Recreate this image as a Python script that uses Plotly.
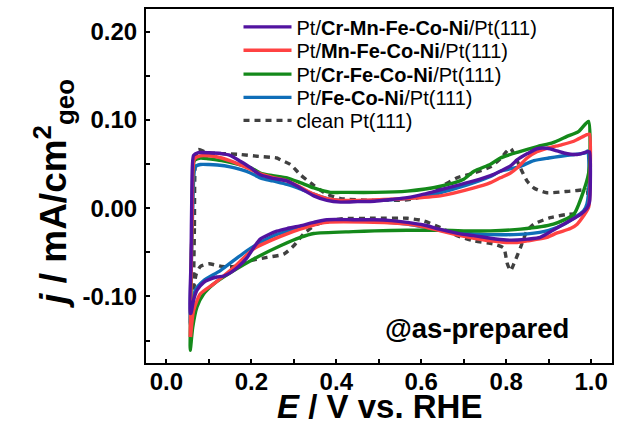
import plotly.graph_objects as go

# Cyclic voltammograms, E / V vs. RHE against j / mA cm^-2 (geo).
# Each curve: anodic sweep (low -> high E) followed by the cathodic return sweep.

cmfcn_E = [0.056, 0.058, 0.060, 0.064, 0.075, 0.10, 0.13, 0.15, 0.175, 0.198, 0.221, 0.25, 0.284, 0.315,
           0.347, 0.378, 0.41, 0.45, 0.49, 0.53, 0.567, 0.606, 0.645, 0.685, 0.724, 0.763, 0.786, 0.81,
           0.826, 0.85, 0.872, 0.896, 0.92, 0.936, 0.967, 0.99, 0.996, 0.998, 0.996,
           0.99, 0.975, 0.943, 0.91, 0.88, 0.85, 0.826, 0.80, 0.763, 0.724, 0.692, 0.645, 0.606, 0.567,
           0.53, 0.488, 0.44, 0.378, 0.347, 0.315, 0.284, 0.26, 0.24, 0.221, 0.205, 0.19, 0.17, 0.151,
           0.135, 0.119, 0.10, 0.088, 0.072, 0.063, 0.058, 0.056]
cmfcn_j = [-0.119, -0.06, 0.02, 0.060, 0.063, 0.063, 0.062, 0.060, 0.053, 0.046, 0.038, 0.034, 0.031, 0.023,
           0.014, 0.009, 0.007, 0.0075, 0.008, 0.010, 0.012, 0.016, 0.021, 0.026, 0.031, 0.037, 0.042, 0.048,
           0.055, 0.062, 0.0675, 0.068, 0.065, 0.0627, 0.061, 0.064, 0.064, 0.03, 0.007,
           0.0, -0.007, -0.016, -0.025, -0.033, -0.035, -0.036, -0.036, -0.034, -0.031, -0.029, -0.024, -0.019, -0.016,
           -0.014, -0.013, -0.013, -0.013, -0.016, -0.020, -0.023, -0.026, -0.030, -0.035, -0.045, -0.056, -0.066, -0.073,
           -0.077, -0.078, -0.081, -0.084, -0.093, -0.106, -0.119, -0.119]

mfcn_E = [0.056, 0.058, 0.061, 0.066, 0.08, 0.10, 0.13, 0.16, 0.198, 0.221, 0.25, 0.284, 0.315, 0.347, 0.378,
          0.41, 0.49, 0.567, 0.645, 0.724, 0.763, 0.786, 0.81, 0.826, 0.849, 0.872, 0.896, 0.93, 0.959, 0.99,
          0.996, 0.998, 0.994,
          0.983, 0.967, 0.951, 0.92, 0.896, 0.85, 0.826, 0.80, 0.763, 0.724, 0.692, 0.645, 0.606, 0.567, 0.488,
          0.378, 0.347, 0.315, 0.284, 0.253, 0.2056, 0.159, 0.1115, 0.08, 0.064, 0.057]
mfcn_j = [-0.146, -0.08, 0.0, 0.056, 0.0595, 0.0595, 0.057, 0.052, 0.044, 0.039, 0.035, 0.031, 0.024, 0.016, 0.011,
          0.009, 0.0095, 0.011, 0.014, 0.023, 0.029, 0.0345, 0.040, 0.046, 0.057, 0.064, 0.068, 0.072, 0.076, 0.0834,
          0.084, 0.046, 0.001,
          -0.008, -0.018, -0.023, -0.028, -0.033, -0.037, -0.0388, -0.0388, -0.037, -0.034, -0.031, -0.0256, -0.021, -0.018, -0.016,
          -0.016, -0.019, -0.0237, -0.029, -0.035, -0.046, -0.067, -0.0857, -0.097, -0.116, -0.146]

cfcn_E = [0.056, 0.058, 0.061, 0.066, 0.08, 0.10, 0.13, 0.16, 0.198, 0.221, 0.25, 0.284, 0.315, 0.347, 0.386,
          0.41, 0.49, 0.567, 0.645, 0.70, 0.724, 0.763, 0.786, 0.83, 0.873, 0.91, 0.943, 0.97, 0.9937,
          0.997, 0.994, 0.982, 0.959, 0.911, 0.834, 0.763, 0.70, 0.645, 0.567, 0.49, 0.44, 0.3469, 0.3155,
          0.2684, 0.2056, 0.1586, 0.1115, 0.088, 0.072, 0.062, 0.057, 0.056]
cfcn_j = [-0.161, -0.09, 0.0, 0.054, 0.057, 0.056, 0.054, 0.051, 0.046, 0.040, 0.037, 0.0345, 0.029, 0.023, 0.018,
          0.018, 0.018, 0.0195, 0.025, 0.033, 0.042, 0.050, 0.057, 0.064, 0.070, 0.0745, 0.0815, 0.087, 0.0985,
          0.057, 0.040, 0.0195, -0.0068, -0.018, -0.0237, -0.0256, -0.0256, -0.025, -0.025, -0.0256, -0.0265, -0.0286, -0.033,
          -0.0425, -0.0575, -0.0707, -0.0857, -0.097, -0.112, -0.135, -0.158, -0.161]

fcn_E = [0.056, 0.058, 0.062, 0.068, 0.08, 0.10, 0.12, 0.15, 0.174, 0.198, 0.221, 0.25, 0.284, 0.315, 0.347,
         0.378, 0.41, 0.49, 0.567, 0.645, 0.685, 0.724, 0.763, 0.786, 0.83, 0.865, 0.90, 0.928, 0.96, 0.986,
         0.992, 0.995, 0.99,
         0.982, 0.936, 0.90, 0.85, 0.80, 0.724, 0.645, 0.567, 0.488, 0.378, 0.347, 0.315, 0.2527, 0.19,
         0.127, 0.088, 0.068, 0.058, 0.056]
fcn_j = [-0.131, -0.07, 0.0, 0.047, 0.0496, 0.0496, 0.049, 0.047, 0.044, 0.040, 0.0345, 0.031, 0.027, 0.022, 0.016,
         0.011, 0.009, 0.009, 0.011, 0.0176, 0.023, 0.029, 0.036, 0.042, 0.047, 0.054, 0.057, 0.059, 0.061, 0.0627,
         0.065, 0.03, 0.005,
         -0.003, -0.018, -0.025, -0.029, -0.030, -0.029, -0.025, -0.018, -0.015, -0.015, -0.018, -0.022, -0.031, -0.048,
         -0.0707, -0.082, -0.093, -0.125, -0.131]

pt_E = [0.064, 0.066, 0.068, 0.075, 0.096, 0.13, 0.174, 0.2135, 0.26, 0.2684, 0.292, 0.3155, 0.347, 0.378, 0.41,
        0.488, 0.567, 0.606, 0.645, 0.684, 0.724, 0.763, 0.786, 0.80, 0.81, 0.82, 0.834, 0.849, 0.865, 0.896,
        0.951, 0.986, 0.99, 0.993,
        0.982, 0.943, 0.904, 0.865, 0.849, 0.834, 0.818, 0.81, 0.802, 0.794, 0.771, 0.724, 0.684, 0.645, 0.606,
        0.567, 0.488, 0.41, 0.378, 0.355, 0.3233, 0.2998, 0.2763, 0.237, 0.198, 0.16, 0.13, 0.10, 0.08, 0.07,
        0.065, 0.064]
pt_j = [-0.095, -0.02, 0.05, 0.0665, 0.063, 0.062, 0.061, 0.059, 0.057, 0.055, 0.0496, 0.038, 0.026, 0.016, 0.011,
        0.009, 0.0096, 0.0139, 0.024, 0.0345, 0.040, 0.047, 0.056, 0.064, 0.068, 0.060, 0.045, 0.031, 0.023, 0.0176,
        0.0195, 0.021, 0.021, 0.005,
        -0.005, -0.007, -0.0106, -0.018, -0.0256, -0.044, -0.063, -0.0707, -0.062, -0.045, -0.0406, -0.037, -0.031, -0.022, -0.0143,
        -0.0114, -0.0114, -0.012, -0.0155, -0.018, -0.029, -0.0425, -0.052, -0.0557, -0.0594, -0.066, -0.066, -0.063, -0.066, -0.075,
        -0.09, -0.095]

# tick labels (hyphen-minus, as printed on the axis)
x_ticks = [0.0, 0.2, 0.4, 0.6, 0.8, 1.0]
x_ticklabels = ["0.0", "0.2", "0.4", "0.6", "0.8", "1.0"]
y_ticks = [-0.10, 0.0, 0.10, 0.20]
y_ticklabels = ["-0.10", "0.00", "0.10", "0.20"]

series = [
    # (name, E, j, colour, dash, legend id) -- drawn bottom to top
    ("clean Pt(111)", pt_E, pt_j, "#404040", "dash", "legend5"),
    ("Pt/<b>Fe-Co-Ni</b>/Pt(111)", fcn_E, fcn_j, "#0F6EB8", "solid", "legend4"),
    ("Pt/<b>Cr-Fe-Co-Ni</b>/Pt(111)", cfcn_E, cfcn_j, "#14891A", "solid", "legend3"),
    ("Pt/<b>Mn-Fe-Co-Ni</b>/Pt(111)", mfcn_E, mfcn_j, "#FF4242", "solid", "legend2"),
    ("Pt/<b>Cr-Mn-Fe-Co-Ni</b>/Pt(111)", cmfcn_E, cmfcn_j, "#5213A0", "solid", "legend"),
]

fig = go.Figure()
for name, E, j, colour, dash, leg in series:
    fig.add_trace(go.Scatter(
        x=E, y=j, mode="lines", name=name,
        line=dict(color=colour, width=3.4, dash="6px,5px" if dash == "dash" else "solid",
                  shape="spline", smoothing=0.6),
        legend=leg,
    ))

FONT = "Arial, 'Liberation Sans', sans-serif"
minor_x = dict(ticks="inside", ticklen=4, tickwidth=1.5, tickcolor="black", dtick=0.1, tick0=0, showgrid=False)
minor_y = dict(ticks="inside", ticklen=4, tickwidth=1.5, tickcolor="black", dtick=0.05, tick0=0, showgrid=False)


def legend_row(top):
    # one legend box per entry, stacked down the upper part of the plot
    return dict(x=0.1985, y=top, xanchor="left", yanchor="top",
                bgcolor="rgba(0,0,0,0)", borderwidth=0,
                font=dict(size=20, family=FONT, color="black"), itemwidth=48)


fig.update_layout(
    width=629, height=446,
    margin=dict(l=145.5, r=17.3, t=7, b=83),
    paper_bgcolor="white", plot_bgcolor="white",
    font=dict(family=FONT, color="black"),
    showlegend=True,
    legend=legend_row(1.0045),
    legend2=legend_row(0.9385),
    legend3=legend_row(0.8710),
    legend4=legend_row(0.8055),
    legend5=legend_row(0.7405),
    xaxis=dict(
        range=[-0.048, 1.049], showgrid=False, zeroline=False,
        showline=True, linecolor="black", linewidth=2, mirror=True,
        ticks="inside", ticklen=4, tickwidth=1.5, tickcolor="black",
        tickmode="array", tickvals=x_ticks, ticktext=x_ticklabels,
        minor=minor_x,
        tickfont=dict(size=24, family=FONT, weight="bold"),
        ticklabelstandoff=-4,
    ),
    yaxis=dict(
        range=[-0.1755, 0.226], showgrid=False, zeroline=False,
        showline=True, linecolor="black", linewidth=2, mirror=True,
        ticks="inside", ticklen=4, tickwidth=1.5, tickcolor="black",
        tickmode="array", tickvals=y_ticks, ticktext=y_ticklabels,
        minor=minor_y,
        tickfont=dict(size=24, family=FONT, weight="bold"),
        ticklabelstandoff=2,
    ),
    annotations=[
        dict(text="<b><i>E</i> / V vs. RHE</b>", xref="paper", yref="paper",
             x=0.5, y=-0.122, xanchor="center", yanchor="middle", showarrow=False,
             font=dict(size=33, family=FONT, color="black")),
        dict(text="<b><i>j</i> / mA/cm<sup>2</sup><sub>geo</sub></b>", xref="paper", yref="paper",
             x=-0.2, y=0.48, xanchor="center", yanchor="middle", textangle=-90, showarrow=False,
             font=dict(size=37, family=FONT, color="black")),
        dict(text="<b>@as-prepared</b>", xref="paper", yref="paper",
             x=0.711, y=0.098, xanchor="center", yanchor="middle", showarrow=False,
             font=dict(size=27.5, family=FONT, color="black")),
    ],
)

fig.write_html("out.html")
